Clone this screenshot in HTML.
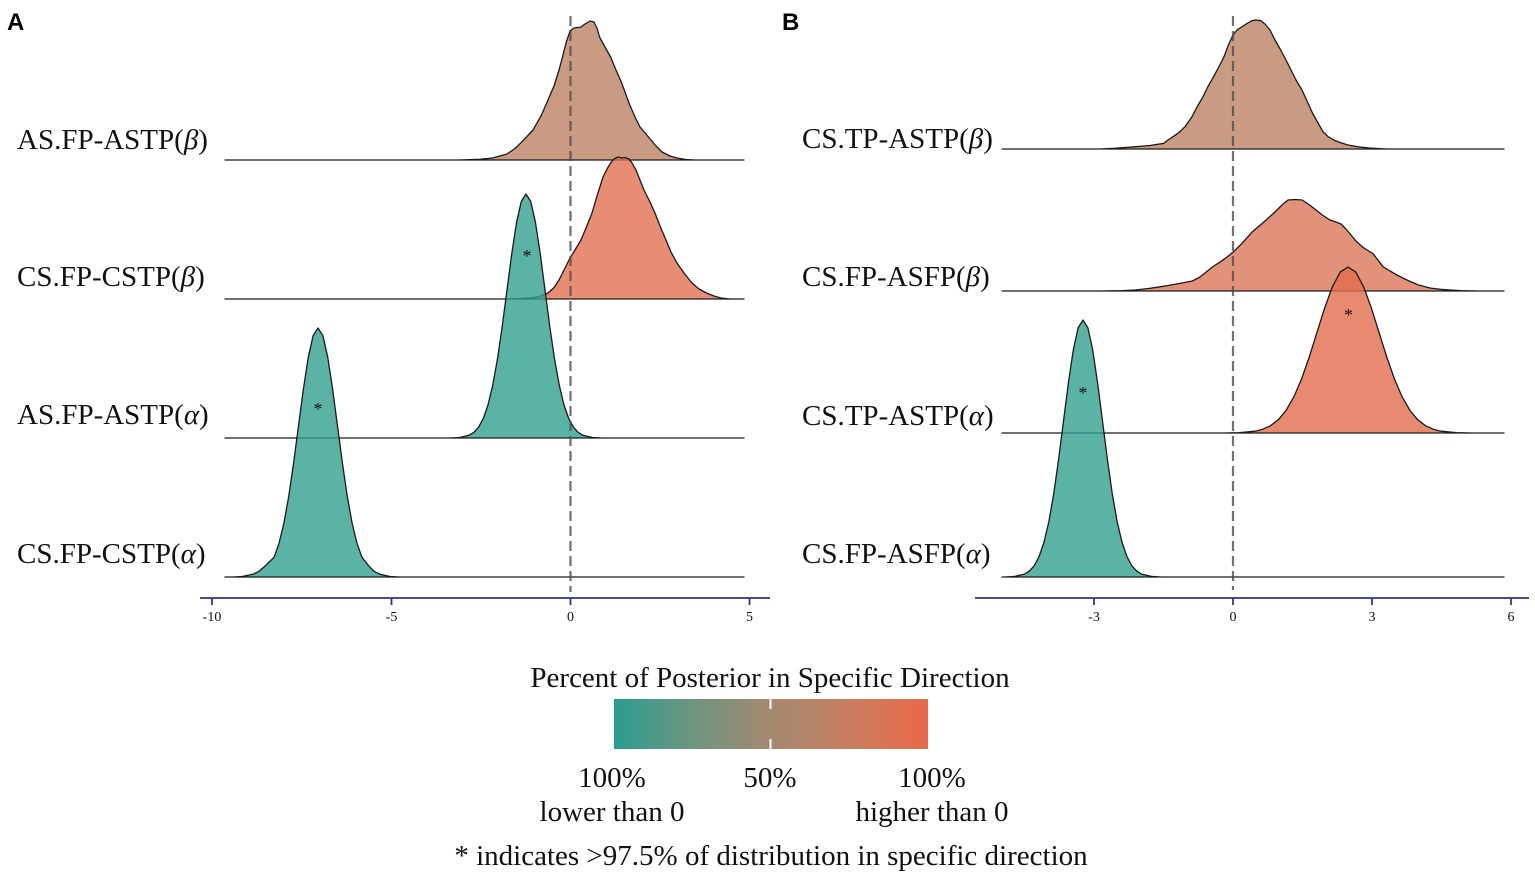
<!DOCTYPE html>
<html>
<head>
<meta charset="utf-8">
<style>
  html,body{margin:0;padding:0;background:#fff;}
  svg{display:block;}
  .lab{font-family:"Liberation Serif",serif;font-size:29px;fill:#111;}
  .tick{font-family:"Liberation Serif",serif;font-size:14px;fill:#111;}
  .leg{font-family:"Liberation Serif",serif;font-size:29px;fill:#111;}
  .ast{font-family:"Liberation Serif",serif;font-size:18px;fill:#111;}
  .pan{font-family:"Liberation Sans",sans-serif;font-size:24px;font-weight:bold;fill:#000;}
</style>
</head>
<body>
<svg width="1535" height="877" viewBox="0 0 1535 877" xmlns="http://www.w3.org/2000/svg">
  <defs>
    <linearGradient id="grad" x1="0" y1="0" x2="1" y2="0">
      <stop offset="0" stop-color="#2a9d8f"/>
      <stop offset="0.25" stop-color="#6e9580"/>
      <stop offset="0.5" stop-color="#a3896f"/>
      <stop offset="0.75" stop-color="#c97e5f"/>
      <stop offset="1" stop-color="#e8694a"/>
    </linearGradient>
  </defs>
  <rect x="0" y="0" width="1535" height="877" fill="#fff"/>

  <!-- Panel letters -->
  <text class="pan" x="7" y="30">A</text>
  <text class="pan" x="782" y="30">B</text>

  <!-- ============ PANEL A ============ -->
  <g stroke="#1a1a1a" stroke-width="1.3" stroke-linejoin="round" fill-opacity="0.8">
    <path fill="#bb8263" d="M225,160 L459,160 L480,159.3 L492.5,158 L507,154 L515,148.5 L522,141.7 L533,130 L541,116 L548,100 L554,86 L559,70 L563,55 L566,43 L570,31 L574,28 L578,27.5 L581,27 L585,24 L590,21 L594,22 L597,28 L599.5,37 L605,47 L610.6,57 L616,70 L621.7,83 L629,103 L635,117 L640,127 L646,134 L651,140 L656,146 L662,152 L670,156 L677,158 L686,159.5 L695,160 L744,160 Z"/>
    <path fill="#e07051" d="M225,299 L480,299 L503.6,299 L520,298.6 L533,297.7 L541,296 L548,293 L554,287.5 L559,280 L564,270 L570,258 L575,250 L581,240 L586,228 L592,213 L597,196 L603,177 L607,169 L610.6,163 L614,159 L618,157 L622,158 L625,157.5 L629,159 L632,163 L636,170 L640,180 L644,190 L650,202 L655,213 L660,226 L666,240 L671,252 L677,263 L684,273 L692,283 L699,289 L706.5,293 L714,296 L721,298 L730,299 L744,299 Z"/>
    <path fill="#32a090" d="M225,438 L450,438 L459.5,437.5 L469,435.3 L473.75,432.4 L478.5,427.3 L483.25,418.6 L488,405 L492.75,385.2 L497.5,358.8 L502.25,326.3 L507,290 L511.75,253.8 L516.5,222.7 L521.25,201.5 L526,194 L530.75,201.5 L535.5,222.7 L540.25,253.8 L545,290 L549.75,326.3 L554.5,358.8 L559.25,385.2 L564,405 L568.75,418.6 L573.5,427.3 L578.25,432.4 L583,435.3 L592.5,437.5 L602,438 L744,438 Z"/>
    <path fill="#32a090" d="M225,577 L232,577 L242,576.5 L253,574.2 L259,571.3 L265,566.1 L274.1,557.2 L279,543.3 L283.9,523.1 L288.75,496.2 L293.6,463 L298.5,426 L303.4,389.1 L308.25,357.3 L313.1,335.7 L318,328 L322.9,335.7 L327.75,357.3 L332.6,389.1 L337.5,426 L342.4,463 L347.25,496.2 L352.1,523.1 L357,543.3 L361.9,557.2 L369,566.1 L374,571.3 L380,574.2 L390,576.5 L400,577 L744,577 Z"/>
  </g>
  <text class="ast" x="527" y="262" text-anchor="middle">*</text>
  <text class="ast" x="318" y="415" text-anchor="middle">*</text>
  <line x1="570.5" y1="16" x2="570.5" y2="592" stroke="#4d4d4d" stroke-opacity="0.8" stroke-width="2.2" stroke-dasharray="10 5"/>
  <g stroke="#2e3192" stroke-width="1.8">
    <line x1="200" y1="598" x2="770" y2="598"/>
    <line x1="212" y1="598" x2="212" y2="605"/>
    <line x1="391.5" y1="598" x2="391.5" y2="605"/>
    <line x1="570.5" y1="598" x2="570.5" y2="605"/>
    <line x1="749.5" y1="598" x2="749.5" y2="605"/>
  </g>
  <g class="tick" text-anchor="middle">
    <text x="212" y="621">-10</text>
    <text x="391.5" y="621">-5</text>
    <text x="570.5" y="621">0</text>
    <text x="749.5" y="621">5</text>
  </g>
  <text class="lab" x="17" y="149">AS.FP-ASTP(<tspan font-style="italic">β</tspan>)</text>
  <text class="lab" x="17" y="286">CS.FP-CSTP(<tspan font-style="italic">β</tspan>)</text>
  <text class="lab" x="17" y="424">AS.FP-ASTP(<tspan font-style="italic">α</tspan>)</text>
  <text class="lab" x="17" y="563">CS.FP-CSTP(<tspan font-style="italic">α</tspan>)</text>

  <!-- ============ PANEL B ============ -->
  <g stroke="#1a1a1a" stroke-width="1.3" stroke-linejoin="round" fill-opacity="0.8">
    <path fill="#bb8263" d="M1002,149 L1100,149 L1114.6,148.3 L1125,147.5 L1135.8,146.7 L1150,145.5 L1164,143.3 L1168,140 L1173,136.7 L1179,132.5 L1185,126.7 L1192,116.7 L1197,107 L1203,96.7 L1208,86.5 L1213.6,76.7 L1219,66.5 L1224,56.7 L1228,46 L1233,35 L1237,30 L1242,26.7 L1247,23.5 L1252,20.7 L1256,20 L1261,20.7 L1265,24 L1270,30 L1275,40 L1280.7,50 L1286,60 L1291,70 L1296,80 L1302,90 L1307,101 L1312.5,113 L1318,123 L1323,131.7 L1328,136.5 L1333.7,140 L1340,142.5 L1348,145 L1358,146.8 L1369,148 L1387,149 L1504,149 Z"/>
    <path fill="#db7659" d="M1002,291 L1100,291 L1121.7,290.7 L1135,290 L1150,288.3 L1160,286.8 L1171,285 L1182,283 L1192.4,281 L1200,277 L1206.5,271.7 L1213,266.5 L1220.6,261.7 L1227,257 L1233,252.3 L1242,243.3 L1252.4,231.7 L1263,222.7 L1270,216.5 L1277,210 L1283,204 L1288,200 L1295,199.5 L1302,200 L1309,204.5 L1316,210 L1323,215.5 L1330,220 L1336,222 L1341,224 L1346,229 L1351,235 L1356,241 L1362,246.7 L1367,250 L1372.6,253.3 L1378,260 L1383,266.7 L1390,271 L1397,275 L1408,280.5 L1418.5,285 L1430,288 L1440,289.3 L1450,290 L1461,290.7 L1480,291 L1504,291 Z"/>
    <path fill="#e26d4c" d="M1002,433 L1224,433 L1239.5,432.6 L1255,431.2 L1262.75,429.2 L1270.5,425.7 L1278.25,419.8 L1286,410.5 L1293.75,397.1 L1301.5,379.1 L1309.25,357 L1317,332.3 L1324.75,307.7 L1332.5,286.5 L1340.25,272.1 L1348,267 L1355.75,272.1 L1363.5,286.5 L1371.25,307.7 L1379,332.3 L1386.75,357 L1394.5,379.1 L1402.25,397.1 L1410,410.5 L1417.75,419.8 L1425.5,425.7 L1433.25,429.2 L1441,431.2 L1456.5,432.6 L1472,433 L1504,433 Z"/>
    <path fill="#32a090" d="M1002,577 L1005,577 L1014.75,576.4 L1024.5,574.1 L1029.4,571.1 L1034.25,565.7 L1039.1,556.5 L1044,542.2 L1048.9,521.4 L1053.75,493.6 L1058.6,459.3 L1063.5,421.1 L1068.4,383 L1073.25,350.2 L1078.1,327.9 L1083,320 L1087.9,327.9 L1092.75,350.2 L1097.6,383 L1102.5,421.1 L1107.4,459.3 L1112.25,493.6 L1117.1,521.4 L1122,542.2 L1126.9,556.5 L1131.75,565.7 L1136.6,571.1 L1141.5,574.1 L1151.25,576.4 L1161,577 L1504,577 Z"/>
  </g>
  <text class="ast" x="1348.5" y="321" text-anchor="middle">*</text>
  <text class="ast" x="1083" y="399" text-anchor="middle">*</text>
  <line x1="1233" y1="16" x2="1233" y2="590" stroke="#4d4d4d" stroke-opacity="0.8" stroke-width="2.2" stroke-dasharray="10 5"/>
  <g stroke="#2e3192" stroke-width="1.8">
    <line x1="975" y1="598" x2="1529" y2="598"/>
    <line x1="1094" y1="598" x2="1094" y2="605"/>
    <line x1="1233" y1="598" x2="1233" y2="605"/>
    <line x1="1372" y1="598" x2="1372" y2="605"/>
    <line x1="1511" y1="598" x2="1511" y2="605"/>
  </g>
  <g class="tick" text-anchor="middle">
    <text x="1094" y="621">-3</text>
    <text x="1233" y="621">0</text>
    <text x="1372" y="621">3</text>
    <text x="1511" y="621">6</text>
  </g>
  <text class="lab" x="802" y="148">CS.TP-ASTP(<tspan font-style="italic">β</tspan>)</text>
  <text class="lab" x="802" y="286">CS.FP-ASFP(<tspan font-style="italic">β</tspan>)</text>
  <text class="lab" x="802" y="425">CS.TP-ASTP(<tspan font-style="italic">α</tspan>)</text>
  <text class="lab" x="802" y="563">CS.FP-ASFP(<tspan font-style="italic">α</tspan>)</text>

  <!-- ============ LEGEND ============ -->
  <text class="leg" x="770" y="687" text-anchor="middle">Percent of Posterior in Specific Direction</text>
  <rect x="614" y="699" width="314" height="50" fill="url(#grad)"/>
  <g stroke="#fff" stroke-width="2">
    <line x1="770.5" y1="699" x2="770.5" y2="709"/>
    <line x1="770.5" y1="739" x2="770.5" y2="749"/>
  </g>
  <g class="leg" text-anchor="middle">
    <text x="612" y="787">100%</text>
    <text x="770" y="787">50%</text>
    <text x="932" y="787">100%</text>
    <text x="612" y="821">lower than 0</text>
    <text x="932" y="821">higher than 0</text>
    <text x="771" y="865">* indicates &gt;97.5% of distribution in specific direction</text>
  </g>
</svg>
</body>
</html>
